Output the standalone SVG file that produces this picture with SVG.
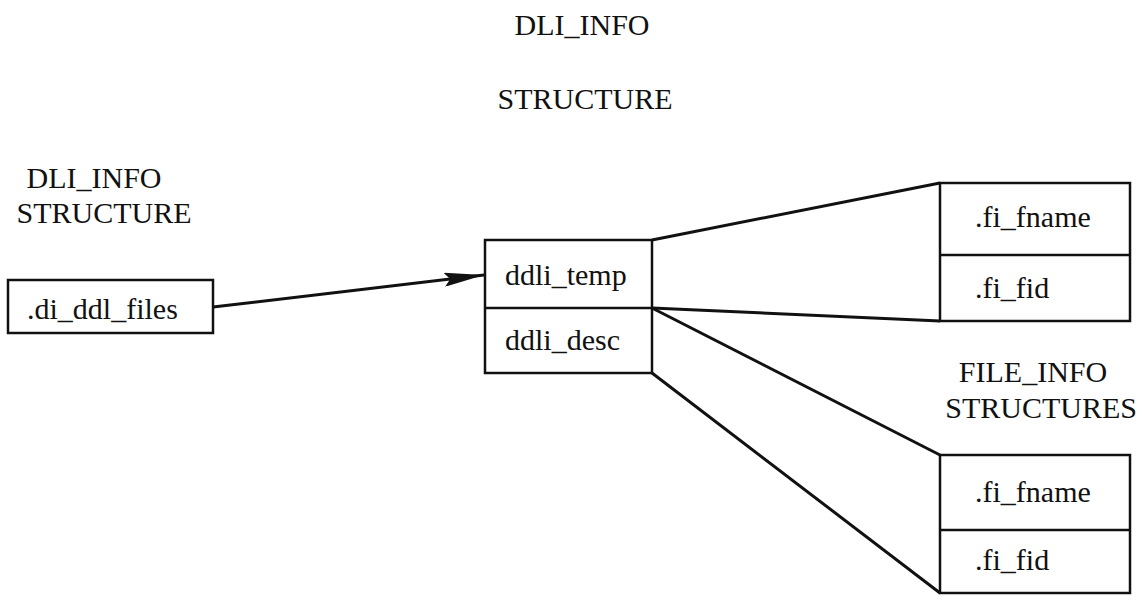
<svg xmlns="http://www.w3.org/2000/svg" width="1143" height="601" viewBox="0 0 1143 601">
<style>
text{font-family:"Liberation Serif","Times New Roman",serif;font-size:30px;fill:#111}
.box{fill:none;stroke:#111;stroke-width:2.5}
.ln{fill:none;stroke:#111;stroke-width:3}
</style>
<defs>
<marker id="ah" viewBox="0 0 40 14" refX="40" refY="7" markerWidth="40" markerHeight="14" markerUnits="userSpaceOnUse" orient="auto">
<path d="M0,0 L40,7 L0,14 L6,7 Z" fill="#111"/>
</marker>
</defs>
<rect width="1143" height="601" fill="#fff"/>
<g id="title">
<text x="582" y="35" text-anchor="middle">DLI_INFO</text>
<text x="585" y="109" text-anchor="middle">STRUCTURE</text>
</g>
<g id="left-label">
<text x="94" y="188" text-anchor="middle">DLI_INFO</text>
<text x="104" y="223" text-anchor="middle">STRUCTURE</text>
</g>
<g id="di-node">
<rect class="box" x="8" y="280" width="205" height="53"/>
<text x="27" y="319">.di_ddl_files</text>
</g>
<g id="ddli-node">
<rect class="box" x="485" y="240" width="167" height="133"/>
<line class="box" x1="485" y1="308" x2="652" y2="308"/>
<text x="505" y="285">ddli_temp</text>
<text x="505" y="350">ddli_desc</text>
</g>
<g id="fi-node-1">
<rect class="box" x="940" y="183" width="190" height="138"/>
<line class="box" x1="940" y1="255" x2="1130" y2="255"/>
<text x="975" y="227">.fi_fname</text>
<text x="975" y="298">.fi_fid</text>
</g>
<g id="file-info-label">
<text x="1033" y="382" text-anchor="middle">FILE_INFO</text>
<text x="1137" y="418" text-anchor="end">STRUCTURES</text>
</g>
<g id="fi-node-2">
<rect class="box" x="940" y="455" width="190" height="138"/>
<line class="box" x1="940" y1="530" x2="1130" y2="530"/>
<text x="975" y="502">.fi_fname</text>
<text x="975" y="570">.fi_fid</text>
</g>
<g id="connectors">
<line class="ln" x1="213" y1="307" x2="484" y2="275" marker-end="url(#ah)"/>
<line class="ln" x1="652" y1="240" x2="940" y2="183"/>
<line class="ln" x1="652" y1="308" x2="940" y2="321"/>
<line class="ln" x1="652" y1="308" x2="940" y2="455"/>
<line class="ln" x1="652" y1="373" x2="940" y2="593"/>
</g>
</svg>
